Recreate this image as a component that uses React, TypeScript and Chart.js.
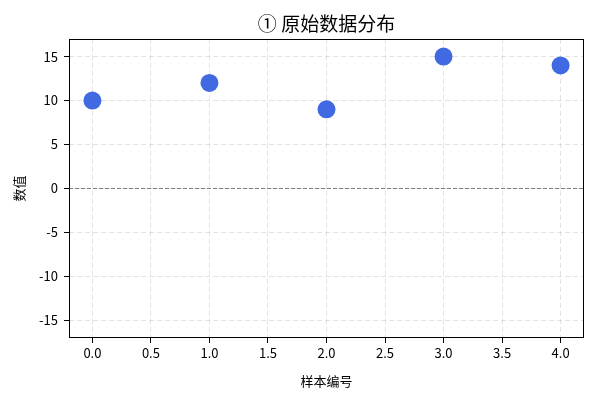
import React, { useEffect, useRef } from "react";
import { Chart, registerables } from "chart.js";

Chart.register(...registerables);

const sampleIndex = [0, 1, 2, 3, 4];
const sampleValues = [10, 12, 9, 15, 14];
const titleText = "① 原始数据分布";
const xLabel = "样本编号";
const yLabel = "数值";

const FONT = "'Noto Sans CJK SC', 'Noto Sans', sans-serif";

const framePlugin = {
  id: "frameAndZero",
  beforeDatasetsDraw(chart: any) {
    const { ctx, chartArea, scales } = chart;
    const y0 = scales.y.getPixelForValue(0);
    ctx.save();
    ctx.strokeStyle = "#808080";
    ctx.lineWidth = 1;
    ctx.setLineDash([4, 2]);
    ctx.beginPath();
    ctx.moveTo(chartArea.left, y0);
    ctx.lineTo(chartArea.right, y0);
    ctx.stroke();
    ctx.setLineDash([]);
    ctx.strokeStyle = "#000";
    ctx.lineWidth = 1;
    ctx.strokeRect(
      Math.round(chartArea.left) + 0.5,
      Math.round(chartArea.top) + 0.5,
      Math.round(chartArea.right - chartArea.left) - 1,
      Math.round(chartArea.bottom - chartArea.top) - 1
    );
    ctx.restore();
  },
  afterDraw(chart: any) {
    const { ctx, chartArea } = chart;
    ctx.save();
    ctx.fillStyle = "#000";
    ctx.font = `19px ${FONT}`;
    ctx.textAlign = "center";
    ctx.textBaseline = "middle";
    ctx.fillText(titleText, (chartArea.left + chartArea.right) / 2, 24);
    ctx.restore();
  },
};

export default function App() {
  const ref = useRef<HTMLCanvasElement>(null);
  useEffect(() => {
    document.body.style.margin = "0";
    const chart = new Chart(ref.current!, {
      type: "scatter",
      data: {
        datasets: [
          {
            data: sampleIndex.map((x, i) => ({ x, y: sampleValues[i] })),
            backgroundColor: "#4169E1",
            borderColor: "#4169E1",
            borderWidth: 0,
            pointRadius: 9,
            pointHoverRadius: 9,
          },
        ],
      },
      options: {
        animation: false,
        responsive: false,
        maintainAspectRatio: false,
        layout: { padding: { left: 7, right: 16, top: 39, bottom: 7 } },
        plugins: {
          legend: { display: false },
          tooltip: { enabled: false },
          title: { display: false },
        },
        scales: {
          x: {
            type: "linear",
            min: -0.2,
            max: 4.2,
            afterFit: (s: any) => {
              s.height = 55;
            },
            ticks: {
              stepSize: 0.5,
              includeBounds: false,
              color: "#000",
              font: { family: FONT, size: 13 },
              padding: 2,
              maxRotation: 0,
              callback: (v: any) => Number(v).toFixed(1),
            },
            grid: {
              color: "rgba(176,176,176,0.35)",
              tickColor: "#000",
              tickLength: 5,
              drawTicks: true,
            },
            border: { display: false, dash: [5, 3] },
            title: {
              display: true,
              text: xLabel,
              color: "#000",
              font: { family: FONT, size: 13 },
              padding: { top: 4 },
            },
          },
          y: {
            type: "linear",
            min: -17,
            max: 17,
            afterFit: (s: any) => {
              s.width = 62;
            },
            ticks: {
              stepSize: 5,
              includeBounds: false,
              color: "#000",
              font: { family: FONT, size: 13 },
              padding: 6,
            },
            grid: {
              color: "rgba(176,176,176,0.35)",
              tickColor: "#000",
              tickLength: 5,
              drawTicks: true,
            },
            border: { display: false, dash: [5, 3] },
            title: {
              display: true,
              text: yLabel,
              color: "#000",
              font: { family: FONT, size: 13 },
              padding: { bottom: 4 },
            },
          },
        },
      },
      plugins: [framePlugin],
    });
    return () => chart.destroy();
  }, []);
  return (
    <div style={{ position: "absolute", left: 0, top: 0, width: 600, height: 400 }}>
      <canvas ref={ref} width={600} height={400} style={{ width: 600, height: 400 }} />
    </div>
  );
}
